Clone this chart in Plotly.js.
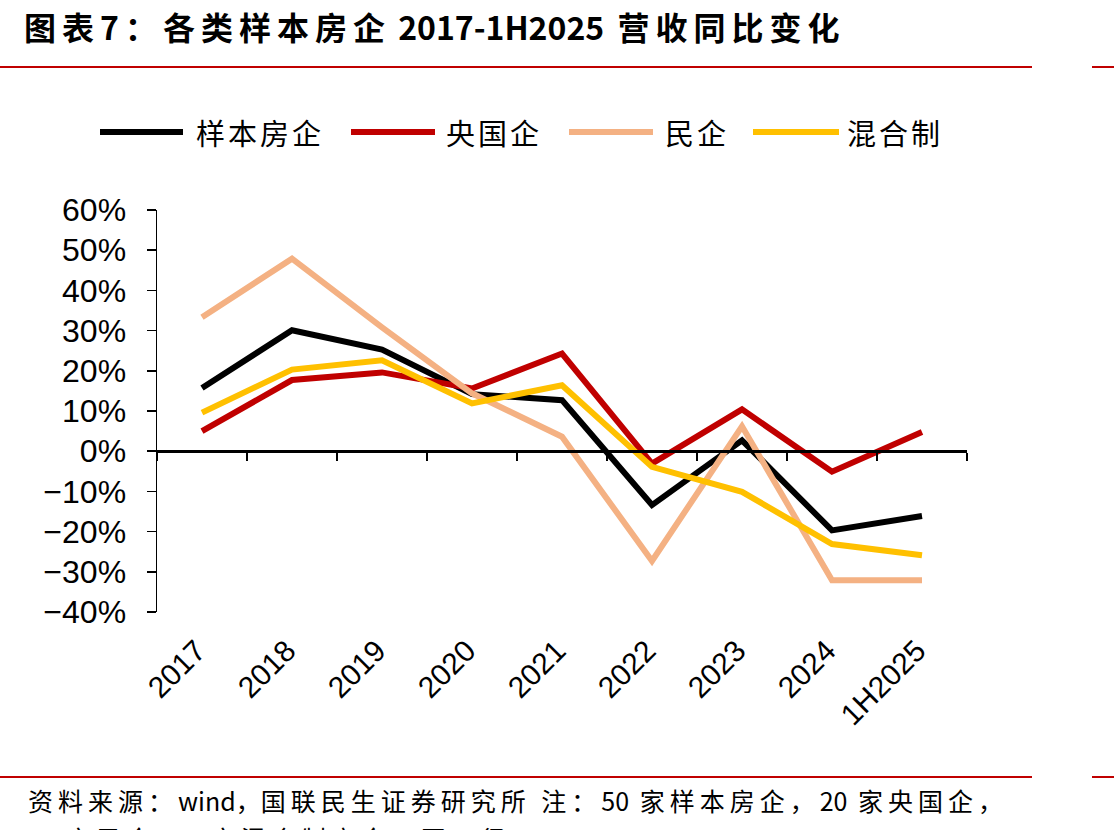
<!DOCTYPE html>
<html>
<head>
<meta charset="utf-8">
<script src="https://cdn.plot.ly/plotly-3.0.1.min.js"></script>
<style>
  html, body { margin: 0; padding: 0; background: #ffffff; }
  #chart { width: 1114px; height: 830px; }
</style>
</head>
<body>
<div id="chart"></div>
<script>
// Periods on the horizontal axis
const categories = ['2017', '2018', '2019', '2020', '2021', '2022', '2023', '2024', '1H2025'];

// Year-on-year revenue growth, %
const sampleAll = [15.7, 30.1, 25.3, 14.2, 12.7, -13.4, 2.7, -19.7, -16.1];   // 样本房企
const stateOwned = [5.0, 17.7, 19.6, 15.6, 24.3, -3.1, 10.4, -5.1, 4.8];     // 央国企
const privateCos = [33.3, 47.9, 30.8, 14.4, 3.6, -27.3, 6.2, -32.1, -32.1];   // 民企
const mixedOwner = [9.6, 20.3, 22.6, 11.9, 16.4, -3.9, -10.1, -23.1, -25.9];  // 混合制

const seriesNames = ['样本房企', '央国企', '民企', '混合制'];
const seriesValues = [sampleAll, stateOwned, privateCos, mixedOwner];
const seriesColors = ['#000000', '#C00000', '#F4B183', '#FFC000'];

const W = 1114, H = 830;
const M = { l: 157, r: 147, t: 210, b: 218 };
const plotW = W - M.l - M.r;
const plotH = H - M.t - M.b;
const px = x => (x - M.l) / plotW;          // page pixel -> paper x
const py = y => (H - M.b - y) / plotH;      // page pixel -> paper y

const cjk = '"Noto Sans CJK SC", "Noto Sans", sans-serif';
const latin = '"Liberation Sans", Arial, sans-serif';
const spaced = (s, n) => '<span style="letter-spacing:' + n + 'px">' + s + '</span>';
const NB = '\u00a0';

const traces = seriesValues.map((vals, i) => ({
  type: 'scatter',
  mode: 'lines',
  name: seriesNames[i],
  x: categories,
  y: vals,
  xaxis: 'x',
  yaxis: 'y',
  line: { color: seriesColors[i], width: 6, shape: 'linear' },
  showlegend: false,
  hoverinfo: 'x+y+name'
}));

// Invisible trace carrying the category labels along the bottom edge
traces.push({
  type: 'scatter',
  mode: 'lines',
  x: categories,
  y: categories.map(() => null),
  xaxis: 'x2',
  yaxis: 'y',
  showlegend: false,
  hoverinfo: 'skip'
});

// Legend drawn as line swatches and labels above the plot
const legendLines = [[100, 183], [351, 435], [569, 653], [753, 839]];
const legendText = [194, 444, 663, 845];
const legendY = 132;

const shapes = [];
const annotations = [];

seriesNames.forEach((name, i) => {
  shapes.push({
    type: 'line', xref: 'paper', yref: 'paper',
    x0: px(legendLines[i][0]), x1: px(legendLines[i][1]),
    y0: py(legendY), y1: py(legendY),
    line: { color: seriesColors[i], width: 6 }
  });
  annotations.push({
    xref: 'paper', yref: 'paper',
    x: px(legendText[i]), y: py(legendY),
    xanchor: 'left', yanchor: 'middle',
    text: spaced(name, 3),
    showarrow: false,
    font: { family: cjk, size: 29, color: '#000000' }
  });
});

// Dark red rules under the heading and above the source note
[67, 777].forEach(y => {
  shapes.push({
    type: 'line', xref: 'paper', yref: 'paper',
    x0: px(0), x1: px(1032), y0: py(y), y1: py(y),
    line: { color: '#C00000', width: 2 }
  });
  shapes.push({
    type: 'line', xref: 'paper', yref: 'paper',
    x0: px(1092), x1: px(1114), y0: py(y), y1: py(y),
    line: { color: '#C00000', width: 2 }
  });
});

// Heading
annotations.push({
  xref: 'paper', yref: 'paper',
  x: px(22), y: py(26),
  xanchor: 'left', yanchor: 'middle',
  text: '<b>' + spaced('图表7：各类样本房企', 6) + NB + '2017-1H2025' + spaced(NB + '营收同比变化', 6) + '</b>',
  showarrow: false,
  font: { family: cjk, size: 32, color: '#000000' }
});

// Source note (the second line runs past the bottom edge of the page)
annotations.push({
  xref: 'paper', yref: 'paper',
  x: px(26), y: py(800),
  xanchor: 'left', yanchor: 'middle',
  text: spaced('资料来源：', 5) + 'wind，' + spaced('国联民生证券研究所' + NB + '注：', 5) + '50' +
        spaced(NB + '家样本房企，', 5) + '20' + spaced(NB + '家央国企，', 5),
  showarrow: false,
  font: { family: cjk, size: 25, color: '#000000' }
});
annotations.push({
  xref: 'paper', yref: 'paper',
  x: px(26), y: py(838),
  xanchor: 'left', yanchor: 'middle',
  text: '23' + spaced(NB + '家民企，', 5) + '7' + spaced(NB + '家混合制房企，同口径', 5),
  showarrow: false,
  font: { family: cjk, size: 25, color: '#000000' }
});

const layout = {
  width: W,
  height: H,
  margin: M,
  paper_bgcolor: '#ffffff',
  plot_bgcolor: '#ffffff',
  showlegend: false,
  xaxis: {
    type: 'category',
    range: [-0.5, categories.length - 0.5],
    anchor: 'free',
    position: 0.4,
    showline: true,
    linecolor: '#000000',
    linewidth: 2.5,
    ticks: 'outside',
    tickson: 'boundaries',
    ticklen: 8,
    tickwidth: 2.5,
    tickcolor: '#000000',
    showticklabels: false,
    showgrid: false,
    zeroline: false,
    fixedrange: true
  },
  xaxis2: {
    type: 'category',
    overlaying: 'x',
    anchor: 'y',
    side: 'bottom',
    range: [-0.5, categories.length - 0.5],
    showline: false,
    ticks: '',
    tickangle: -45,
    ticklabelstandoff: 14,
    ticklabelshift: -5,
    tickfont: { family: latin, size: 30, color: '#000000' },
    showgrid: false,
    zeroline: false,
    fixedrange: true
  },
  yaxis: {
    range: [-40, 60],
    dtick: 10,
    tick0: 0,
    ticksuffix: '%',
    showline: true,
    linecolor: '#000000',
    linewidth: 1.5,
    ticks: 'outside',
    ticklen: 9,
    tickwidth: 1.5,
    tickcolor: '#000000',
    ticklabelstandoff: 14,
    tickfont: { family: latin, size: 32, color: '#000000' },
    showgrid: false,
    zeroline: false,
    fixedrange: true
  },
  shapes: shapes,
  annotations: annotations
};

Plotly.newPlot('chart', traces, layout, { displayModeBar: false, staticPlot: true });
</script>
</body>
</html>
